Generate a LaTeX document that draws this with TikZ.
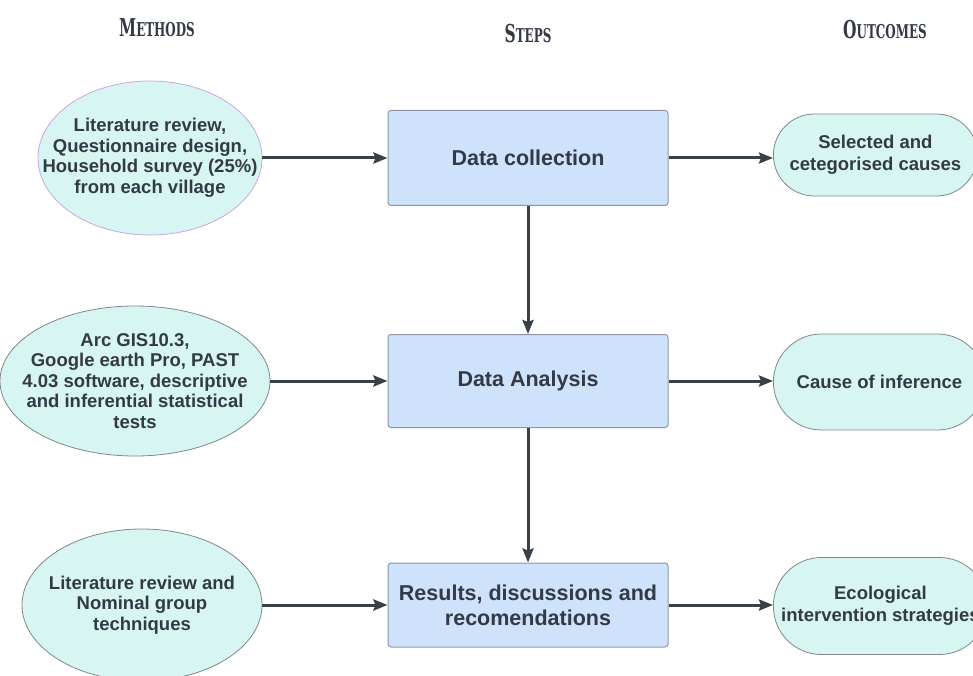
\documentclass[tikz,border=0pt]{standalone}
\usepackage{fontspec}
\setmainfont{Liberation Sans}
\newfontfamily\headfont{DejaVu Serif Condensed Bold}
\usetikzlibrary{shapes.geometric,arrows.meta}

\definecolor{inkgray}{HTML}{333A45}
\definecolor{methodfill}{HTML}{D7F6F2}
\definecolor{stepfill}{HTML}{CFE2FC}
\definecolor{stepline}{HTML}{8A96A8}
\definecolor{ovalline}{HTML}{7D8790}
\definecolor{lilac}{HTML}{C9A6E4}
\definecolor{arrowgray}{HTML}{3A4048}

\newcommand{\headcaps}[2]{\scalebox{0.78}[1.12]{\headfont\fontsize{22}{22}\selectfont #1{\fontsize{17}{17}\selectfont #2}}}

\tikzset{
  heading/.style={text=inkgray, inner sep=0pt},
  methodoval/.style={ellipse, draw=ovalline, line width=0.8pt, fill=methodfill, inner sep=0pt},
  ovaltext/.style={align=center, text=inkgray, font=\bfseries\fontsize{18.5}{20.5}\selectfont},
  stepbox/.style={rectangle, rounded corners=3pt, draw=stepline, line width=1pt, fill=stepfill,
    minimum width=280pt, align=center, text=inkgray, font=\bfseries\fontsize{21.5}{25}\selectfont},
  outbox/.style={rectangle, draw=ovalline, line width=0.8pt, fill=methodfill, anchor=west,
    align=center, text=inkgray, font=\bfseries\fontsize{18.5}{22}\selectfont},
  flow/.style={->, draw=arrowgray, line width=3pt}
}

\begin{document}
\begin{tikzpicture}[x=1pt, y=-1pt, >={Stealth[length=14pt,width=11pt,inset=2pt]}]
                \useasboundingbox (0,0) rectangle (973,676);
                \clip (0,0) rectangle (973,676);

                \node[heading] (hmeth) at (157,28) {\headcaps{M}{ETHODS}};
                \node[heading] (hstep) at (528,34) {\headcaps{S}{TEPS}};
                \node[heading] (hout) at (885,30) {\headcaps{O}{UTCOMES}};

                \node[methodoval, draw=lilac, minimum width=224pt, minimum height=154pt] (m1) at (150,158) {};
                \node[ovaltext] (m1t) at (m1) {Literature review,\\Questionnaire design,\\Household survey (25\%)\\from each village};
                \node[methodoval, minimum width=270pt, minimum height=150pt] (m2) at (135,381) {};
                \node[ovaltext] (m2t) at (m2) {Arc GIS10.3,\\Google earth Pro, PAST\\4.03 software, descriptive\\and inferential statistical\\tests};
                \node[methodoval, minimum width=240pt, minimum height=152pt] (m3) at (142,605) {};
                \node[ovaltext] (m3t) at (m3) {Literature review and\\Nominal group\\techniques};

                \node[stepbox, minimum height=95pt] (s1) at (528,158) {Data collection};
                \node[stepbox, minimum height=93pt] (s2) at (528,381) {Data Analysis};
                \node[stepbox, minimum height=84pt] (s3) at (528,605) {Results, discussions and\\recomendations};

                \node[outbox, rounded corners=41pt, minimum width=204pt, minimum height=82pt] (o1) at (773,155) {Selected and\\cetegorised causes};
                \node[outbox, rounded corners=48pt, minimum width=212pt, minimum height=96pt] (o2) at (773,382) {Cause of inference};
                \node[outbox, rounded corners=48pt, minimum width=214pt, minimum height=97pt] (o3) at (773,606) {Ecological\\intervention strategies};

                \draw[flow] (m1.east) -- (m1.east -| s1.west);
                \draw[flow] (m2.east) -- (s2.west);
                \draw[flow] (m3.east) -- (s3.west);

                \draw[flow] (s1.east) -- (s1.east -| o1.west);
                \draw[flow] (s2.east) -- (s2.east -| o2.west);
                \draw[flow] (s3.east) -- (s3.east -| o3.west);

                \draw[flow] (s1.south) -- (s2.north);
                \draw[flow] (s2.south) -- (s3.north);
\end{tikzpicture}
\end{document}
